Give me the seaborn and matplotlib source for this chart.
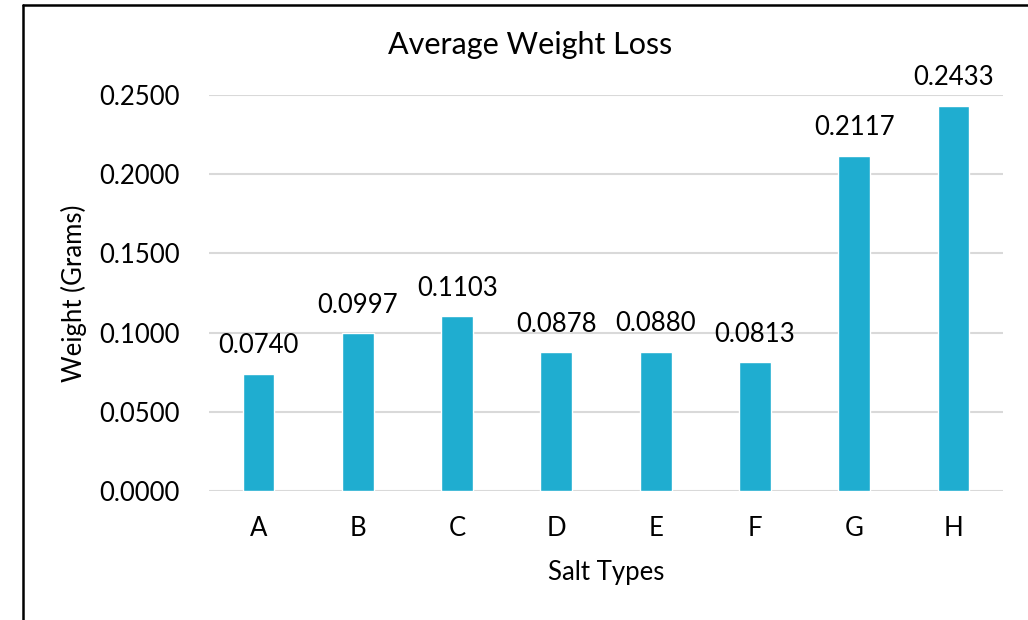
import matplotlib
matplotlib.use("Agg")
import matplotlib.pyplot as plt
from matplotlib.lines import Line2D
import seaborn as sns
import pandas as pd

salt_types = ["A", "B", "C", "D", "E", "F", "G", "H"]
avg_loss = [0.0740, 0.0997, 0.1103, 0.0878, 0.0880, 0.0813, 0.2117, 0.2433]
y_ticks = [0.0, 0.05, 0.10, 0.15, 0.20, 0.25]

sns.set_theme(style="white")
plt.rcParams["font.family"] = ["Lato", "DejaVu Sans"]

df = pd.DataFrame({"salt": salt_types, "loss": avg_loss})

fig = plt.figure(figsize=(10.28, 6.2), dpi=100)
ax = fig.add_axes([0.2033, 0.2081, 0.7724, 0.6387])

sns.barplot(data=df, x="salt", y="loss", color="#1FADD0", saturation=1,
            width=0.32, ax=ax, zorder=3)

fs = 18.5
ax.set_xlim(-0.5, len(salt_types) - 0.5)
ax.set_ylim(0, 0.25)
ax.set_yticks(y_ticks)
ax.set_yticklabels([f"{t:.4f}" for t in y_ticks])
ax.yaxis.grid(True, color="#D9D9D9", linewidth=1.5, zorder=0)
ax.xaxis.grid(False)
for s in ax.spines.values():
    s.set_visible(False)
ax.tick_params(axis="both", length=0, labelsize=fs, colors="black")
ax.tick_params(axis="y", pad=21)
ax.tick_params(axis="x", pad=18)

for i, v in enumerate(avg_loss):
    ax.annotate(f"{v:.4f}", (i, v), xytext=(0, 11), textcoords="offset points",
                ha="center", va="bottom", fontsize=fs, color="black",
                annotation_clip=False)

ax.set_xlabel("Salt Types", fontsize=fs, labelpad=14, color="black")
ax.set_ylabel("Weight (Grams)", fontsize=fs, labelpad=9, color="black")
fig.text(0.516, 0.927, "Average Weight Loss", ha="center", va="center",
         fontsize=22, color="black")

# outer frame
fig.add_artist(Line2D([22.5 / 1028, 22.5 / 1028], [0, 1 - 4.5 / 620],
                      transform=fig.transFigure, color="black", linewidth=1.8))
fig.add_artist(Line2D([22.5 / 1028, 1], [1 - 4.5 / 620, 1 - 4.5 / 620],
                      transform=fig.transFigure, color="black", linewidth=1.8))

fig.savefig("out.png", dpi=100, facecolor="white")
